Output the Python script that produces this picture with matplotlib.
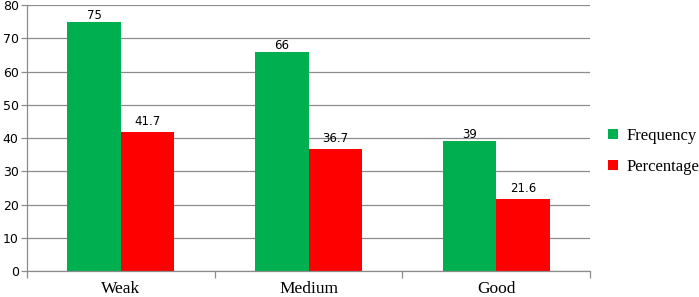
import matplotlib.pyplot as plt
import numpy as np

categories = ['Weak', 'Medium', 'Good']
frequency = [75, 66, 39]
percentage = [41.7, 36.7, 21.6]
freq_labels = ['75', '66', '39']
pct_labels = ['41.7', '36.7', '21.6']
y_ticks = [0, 10, 20, 30, 40, 50, 60, 70, 80]

fig = plt.figure(figsize=(6.99, 2.97), dpi=100)
ax = fig.add_axes([0.0386, 0.0875, 0.8055, 0.8955])

x = np.arange(len(categories))
w = 0.285
b1 = ax.bar(x - w / 2, frequency, w, color='#00B050', label='Frequency')
b2 = ax.bar(x + w / 2, percentage, w, color='#FF0000', label='Percentage')
ax.bar_label(b1, labels=freq_labels, padding=0, fontsize=8.5, family='DejaVu Sans')
ax.bar_label(b2, labels=pct_labels, padding=3, fontsize=8.5, family='DejaVu Sans')

ax.set_xlim(-0.5, len(categories) - 0.5)
ax.set_ylim(0, 80)
ax.set_yticks(y_ticks)
ax.set_yticklabels([str(t) for t in y_ticks], fontsize=9, family='DejaVu Sans')
ax.yaxis.grid(True, color='#8c8c8c', linewidth=0.9)
ax.set_axisbelow(True)

# category boundary ticks on x axis
ax.set_xticks(np.arange(-0.5, len(categories)), minor=False)
ax.set_xticklabels([])
ax.set_xticks(x, minor=True)
ax.set_xticklabels(categories, minor=True, fontsize=12.5, family='Liberation Serif')
ax.tick_params(axis='x', which='major', length=5, color='#8c8c8c', width=0.9)
ax.tick_params(axis='x', which='minor', length=0, pad=7)
ax.tick_params(axis='y', length=4, color='#8c8c8c', width=0.9, pad=2)

for s in ['top', 'right']:
    ax.spines[s].set_visible(False)
for s in ['left', 'bottom']:
    ax.spines[s].set_color('#8c8c8c')
    ax.spines[s].set_linewidth(0.9)

ax.legend(loc='center left', bbox_to_anchor=(1.005, 0.45), frameon=False,
          prop={'family': 'Liberation Serif', 'size': 12},
          handlelength=0.6, handleheight=0.6, handletextpad=0.5, labelspacing=0.9)

fig.savefig('out.png', dpi=100)
